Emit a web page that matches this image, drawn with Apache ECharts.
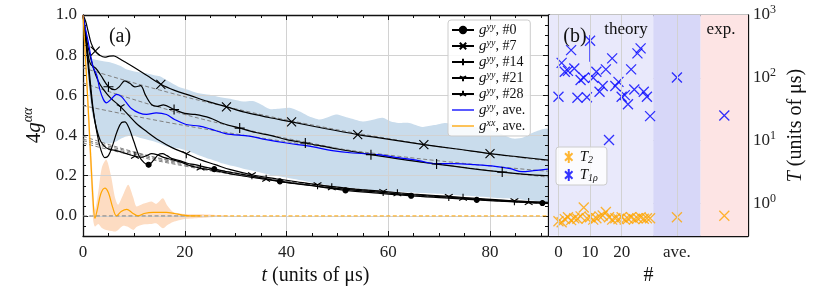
<!DOCTYPE html>
<html><head><meta charset="utf-8">
<script src="https://cdn.jsdelivr.net/npm/echarts@6/dist/echarts.min.js"></script>
<style>html,body{margin:0;padding:0;background:#fff}#c{width:831px;height:305px}</style>
</head><body><div id="c"></div>
<script>
// ---------------- DATA: panel (a) ----------------
const g0 = [[0,1.0],[0.5,0.9],[1,0.78],[1.5,0.65],[2,0.53],[2.7,0.42],[3.5,0.33],[4.3,0.29],[5,0.3],[5.8,0.35],[6.7,0.42],[7.6,0.465],[8.2,0.468],[9,0.44],[10,0.37],[11,0.3],[12,0.265],[12.9,0.255],[13.8,0.275],[14.8,0.305],[15.6,0.31],[16.5,0.3],[17.5,0.285],[19,0.275],[20.5,0.262],[22,0.255],[24,0.243],[25.8,0.233],[28,0.222],[31,0.208],[35,0.19],[38.7,0.172],[45,0.15],[51.6,0.127],[58,0.113],[64.5,0.1],[71,0.09],[77.4,0.08],[84,0.071],[90.3,0.064],[91.4,0.063]];
const g0Marks = [12.9,25.8,38.7,51.6,64.5,77.4,90.3];
const g7 = [[0,1.0],[0.5,0.97],[1,0.92],[1.6,0.86],[2.4,0.82],[3.3,0.8],[4.3,0.79],[5.2,0.795],[6,0.797],[7,0.785],[8,0.77],[10,0.74],[12.5,0.7],[15.3,0.655],[18,0.625],[21,0.6],[24.5,0.57],[28.2,0.543],[32,0.515],[36.5,0.49],[41,0.468],[47.5,0.435],[54,0.405],[60.5,0.38],[67,0.355],[73.5,0.333],[80,0.31],[86,0.293],[91.4,0.278]];
const g7Marks = [2.4,15.3,28.2,41,54,67,80];
const g14 = [[0,1.0],[0.5,0.9],[1,0.8],[1.5,0.755],[2.5,0.735],[3.5,0.7],[5,0.643],[6.3,0.628],[7.2,0.645],[8.2,0.672],[9.2,0.66],[10.2,0.642],[11.3,0.648],[12.3,0.6],[13.5,0.553],[14.6,0.545],[15.8,0.553],[17.9,0.53],[20,0.51],[22,0.505],[24.9,0.488],[27.5,0.46],[30.8,0.437],[34,0.415],[37,0.4],[40,0.38],[43.7,0.363],[50,0.333],[56.6,0.305],[63,0.28],[69.5,0.258],[76,0.237],[82.4,0.218],[87,0.207],[91.4,0.2]];
const g14Marks = [5,17.9,30.8,43.7,56.6,69.5,82.4];
const g21 = [[0,1.0],[0.5,0.92],[1,0.84],[2,0.74],[3,0.67],[4,0.63],[5.5,0.585],[7.4,0.543],[9,0.5],[10.5,0.46],[12.5,0.42],[15,0.375],[17.5,0.34],[20.3,0.31],[23,0.28],[26,0.255],[29,0.23],[33.2,0.205],[38,0.185],[42,0.17],[46.1,0.155],[52,0.137],[59,0.122],[65,0.109],[71.9,0.097],[78,0.086],[84.8,0.075],[91.4,0.068]];
const g21Marks = [7.4,20.3,33.2,46.1,59,71.9,84.8];
const g28 = [[0,1.0],[0.5,0.88],[1,0.75],[1.5,0.62],[2,0.52],[2.7,0.43],[3.5,0.37],[4.5,0.34],[5.5,0.33],[6.5,0.325],[7.5,0.318],[8.5,0.31],[10.2,0.297],[11.5,0.292],[12.5,0.3],[13.5,0.31],[14.5,0.305],[16,0.29],[17.5,0.28],[19,0.27],[21,0.25],[23.1,0.238],[26,0.225],[30,0.205],[36,0.182],[42,0.16],[48.9,0.14],[55,0.125],[61.8,0.11],[68,0.1],[74.7,0.088],[81,0.078],[87.6,0.067],[91.4,0.064]];
const g28Marks = [10.2,23.1,36,48.9,61.8,74.7,87.6];
const gyyAve = [[0,1.0],[0.5,0.93],[1,0.87],[1.5,0.8],[2,0.74],[2.7,0.7],[3.3,0.63],[4,0.58],[4.6,0.563],[5.5,0.58],[6.6,0.605],[7.5,0.595],[8.5,0.565],[9.5,0.535],[11,0.513],[12.5,0.505],[14.4,0.513],[16.4,0.505],[18,0.48],[20.3,0.455],[22.9,0.447],[25,0.433],[28,0.41],[32.7,0.397],[36,0.38],[40,0.363],[45,0.345],[49,0.325],[53,0.313],[58,0.305],[62,0.29],[66,0.275],[69.3,0.26],[73,0.26],[77,0.255],[81,0.247],[84,0.235],[86.3,0.22],[88.5,0.225],[91.4,0.233]];
const gxxAve = [[0,1.0],[0.5,0.78],[1,0.55],[1.5,0.3],[2,0.07],[2.35,-0.012],[2.8,0.03],[3.5,0.11],[4.3,0.138],[5,0.115],[5.8,0.045],[6.6,0.0],[7.5,0.022],[8.6,0.033],[9.7,0.015],[10.8,0.0],[12,0.012],[13.8,0.018],[16.4,0.018],[18,0.012],[19.4,0.005],[21,0.0],[23,0.0]];
// fitted decays (grey dashed)
const fit7   = [[0,0.737],[15,0.627],[30,0.533],[45,0.453],[60,0.385],[75,0.327],[91.4,0.274]];
const fit14  = [[0,0.662],[15,0.541],[30,0.442],[45,0.361],[60,0.294],[75,0.241],[91.4,0.193]];
const fitAve = [[0,0.549],[15,0.473],[30,0.408],[45,0.352],[60,0.303],[75,0.261],[91.4,0.222]];
const fit0   = [[0,0.397],[10,0.319],[20,0.261],[30,0.214],[45,0.158],[60,0.117],[75,0.087],[91.4,0.0625]];
const fit21  = [[0,0.383],[10,0.315],[20,0.259],[30,0.213],[45,0.159],[60,0.119],[75,0.089],[91.4,0.064]];
const fit28  = [[0,0.375],[10,0.308],[20,0.253],[30,0.208],[45,0.155],[60,0.115],[75,0.086],[91.4,0.062]];
const fitX   = [[0,0.363],[10,0.3],[20,0.248],[30,0.205],[45,0.153],[60,0.114],[75,0.085],[91.4,0.061]];
const zeroRef = [[0,0],[20,0]];
const gxxFit  = [[20,0],[91.4,0]];
// spread bands
const bandYYt  = [0,0.5,1,1.7,3,4,5.3,6.5,7.5,8.5,9.9,11,12.5,14,15.1,16.5,17.5,19,20.3,22.5,24.9,27,29.5,31.5,33.4,35,36.7,38.5,40.6,43,44.5,46.5,48,49.7,52,55,57,58.9,60.5,62,64.1,66.7,69,71.3,73,75.2,77.5,79.8,82,84.5,86.5,88.5,91.4];
const bandYYhi = [1.0,0.95,0.86,0.785,0.775,0.77,0.765,0.755,0.745,0.73,0.72,0.715,0.71,0.7,0.695,0.675,0.66,0.64,0.63,0.612,0.603,0.59,0.58,0.57,0.572,0.555,0.532,0.533,0.538,0.515,0.495,0.48,0.49,0.505,0.49,0.47,0.478,0.488,0.47,0.463,0.463,0.443,0.452,0.463,0.455,0.45,0.44,0.43,0.41,0.385,0.39,0.415,0.43];
const bandYYlo = [1.0,0.85,0.68,0.52,0.4,0.365,0.36,0.37,0.385,0.395,0.4,0.39,0.38,0.37,0.36,0.345,0.34,0.335,0.325,0.305,0.283,0.265,0.248,0.235,0.225,0.215,0.205,0.197,0.187,0.176,0.168,0.16,0.153,0.147,0.14,0.133,0.128,0.125,0.122,0.12,0.117,0.114,0.111,0.107,0.104,0.1,0.097,0.093,0.089,0.085,0.081,0.077,0.072];
const bandXXt  = [0,0.5,1,1.5,2,2.35,3,3.7,4.6,5.5,6.3,6.9,7.8,8.9,9.9,10.5,11.8,13.5,14.4,15.7,16.6,17.7,20,23,26,30];
const bandXXhi = [1.0,0.82,0.6,0.38,0.15,0.03,0.12,0.24,0.28,0.2,0.09,0.055,0.1,0.155,0.09,0.047,0.06,0.072,0.06,0.088,0.05,0.02,0.01,0.008,0.005,0];
const bandXXlo = [1.0,0.72,0.45,0.2,-0.02,-0.053,-0.04,-0.06,-0.07,-0.075,-0.078,-0.07,-0.05,-0.055,-0.07,-0.055,-0.043,-0.04,-0.037,-0.062,-0.045,-0.03,-0.015,-0.01,-0.005,0];
const xTicksA = [0,20,40,60,80];
const yTicksA = [0,0.2,0.4,0.6,0.8,1.0];

// ---------------- DATA: panel (b) ----------------
const sampleIdx = [0,1,2,3,4,5,6,7,8,9,10,11,12,13,14,15,16,17,18,19,20,21,22,23,24,25,26,27,28,29];
const t1rhoTheory = [50,173,125,129,276,141,48,92,100,49,390,100,125,60,74,136,10.2,204,74,86,50,53,38,136,65,245,294,60,50,24.5];
const t2Theory = [0.52,0.5,0.56,0.6,0.54,0.58,0.57,0.62,0.86,0.58,0.6,0.55,0.58,0.62,0.64,0.73,0.6,0.55,0.58,0.56,0.6,0.55,0.57,0.6,0.56,0.58,0.6,0.57,0.58,0.58];
const aveX = 37.5, expX = 52.5;
const t1rhoAve = 101, t2Ave = 0.6;
const t1rhoExp = 25, t2Exp = 0.635;
const t1rhoErr = [[10,180,480]];
const xTickB = [0,10,20,37.5];
const xTickBLabels = ['0','10','20','ave.'];
const yTickB = [0,1,2,3];          // log10 of 10^0 .. 10^3
const regionTheory = [-3,30], regionAve = [30,45], regionExp = [45,60];

// ---------------- helpers / style ----------------
const SERIF = '"Liberation Serif","DejaVu Serif",serif';
const GRIDC = '#d2d2d2';
const AXC = '#111';
const XP = 'path://M0,0L10,10M0,10L10,0';
const PLUS = 'path://M5,0L5,10M0,5L10,5';
const TRID = 'path://M5,0M5,5L5,10M5,5L0.67,2.5M5,5L9.33,2.5';
const TRIU = 'path://M5,10M5,5L5,0M5,5L0.67,7.5M5,5L9.33,7.5';
const XPLUS = 'path://M0,1L10,11M0,11L10,1M5,-2L5,14';
const LINEICON = 'path://M0,0L22,0L22,1.3L0,1.3Z';

function rng(a,b,s){const r=[];for(let v=a;v<=b+1e-9;v+=s)r.push(Math.round(v*1000)/1000);return r;}
const minorAx = rng(5,90,5).filter(v=>v%20!==0);
const minorAy = rng(-0.05,0.95,0.05).filter(v=>Math.abs(v/0.2-Math.round(v/0.2))>1e-6);
const minorBx = [2,4,6,8,12,14,16,18,22,24,26,28];
const minorBy = [];
for (let n=-1;n<=2;n++) for (let k=2;k<=9;k++){const v=n+Math.log10(k); if(v>-0.52&&v<3) minorBy.push(v);}

const AXL = {show:true,onZero:false,lineStyle:{color:AXC,width:1.3}};
const NOAXL = {show:false,onZero:false};
function tk(vals,len){return {show:true,inside:true,length:len,customValues:vals,lineStyle:{color:AXC,width:1}};}
const NOLAB = {show:false};
const NOSPL = {show:false};
const LABS = {fontFamily:SERIF,fontSize:17,color:'#222'};

function withMarks(pts, marks){return pts.map(p=>marks.indexOf(p[0])>=0?{value:p}:{value:p,symbol:'none'});}
function curve(name,pts,marks,sym,size){
  return {type:'line',name,xAxisIndex:0,yAxisIndex:0,data:withMarks(pts,marks),symbol:sym,symbolSize:size,
    symbolKeepAspect:true,showSymbol:true,showAllSymbol:true,smooth:0.35,z:4,
    lineStyle:{color:'#000',width:1.2},itemStyle:{color:'#000',borderColor:'#000',borderWidth:1.1},
    emphasis:{disabled:true},silent:true};
}
function dashed(pts,color,z){
  return {type:'line',xAxisIndex:0,yAxisIndex:0,data:pts,symbol:'none',smooth:true,z:z||3,silent:true,
    lineStyle:{color:color||'#808080',width:1,type:[4,2.5]},emphasis:{disabled:true}};
}
function band(ts,lo,hi,color){
  return {type:'custom',xAxisIndex:0,yAxisIndex:0,z:-1,silent:true,
    data:ts.map((t,i)=>[t,lo[i],hi[i]]),encode:{x:0,y:[1,2]},
    renderItem:function(params,api){
      if(params.dataIndex!==0) return null;
      const pts=[];
      for(let i=0;i<ts.length;i++) pts.push(api.coord([ts[i],hi[i]]));
      for(let i=ts.length-1;i>=0;i--) pts.push(api.coord([ts[i],lo[i]]));
      return {type:'polygon',shape:{points:pts,smooth:0.25},style:{fill:color,stroke:null}};
    }};
}

const LEG_A = {
  g0:'{i|g}{sup|yy}{r|, #0}', g7:'{i|g}{sup|yy}{r|, #7}', g14:'{i|g}{sup|yy}{r|, #14}',
  g21:'{i|g}{sup|yy}{r|, #21}', g28:'{i|g}{sup|yy}{r|, #28}',
  gyyAve:'{i|g}{sup|yy}{r|, ave.}', gxxAve:'{i|g}{sup|xx}{r|, ave.}'
};
const LEG_B = {T2:'{i|T}{sub|2}', T1rho:'{i|T}{sub|1ρ}'};

const t1rhoPts = sampleIdx.map((x,i)=>[x,Math.log10(t1rhoTheory[i])]).concat([[aveX,Math.log10(t1rhoAve)],[expX,Math.log10(t1rhoExp)]]);
const t2Pts = sampleIdx.map((x,i)=>[x,Math.log10(t2Theory[i])]).concat([[aveX,Math.log10(t2Ave)],[expX,Math.log10(t2Exp)]]);

const option = {
  animation:false,
  backgroundColor:'#fff',
  grid:[
    {left:83,top:15,width:465,height:221},
    {left:549,top:15,width:199,height:221}
  ],
  xAxis:[
    {type:'value',gridIndex:0,position:'bottom',min:0,max:91.4,axisLine:AXL,axisTick:tk(xTicksA,5),
     axisLabel:Object.assign({customValues:xTicksA,margin:8,formatter:v=>(xTicksA.indexOf(v)>=0?String(v):'')},LABS),
     splitLine:{show:true,lineStyle:{color:GRIDC,width:1}},
     name:'{i|t}{r| (units of μs)}',nameLocation:'middle',nameGap:22,
     nameTextStyle:{fontFamily:SERIF,fontSize:20,color:'#111',rich:{i:{fontFamily:SERIF,fontSize:20,fontStyle:'italic',color:'#111'},r:{fontFamily:SERIF,fontSize:20,color:'#111'}}}},
    {type:'value',gridIndex:0,position:'top',min:0,max:91.4,axisLine:AXL,axisTick:tk(xTicksA,5),axisLabel:NOLAB,splitLine:NOSPL},
    {type:'value',gridIndex:0,position:'bottom',min:0,max:91.4,axisLine:NOAXL,axisTick:tk(minorAx,3),axisLabel:NOLAB,splitLine:NOSPL},
    {type:'value',gridIndex:0,position:'top',min:0,max:91.4,axisLine:NOAXL,axisTick:tk(minorAx,3),axisLabel:NOLAB,splitLine:NOSPL},
    {type:'value',gridIndex:1,position:'bottom',min:-3,max:60,axisLine:AXL,axisTick:tk(xTickB,5),
     axisLabel:Object.assign({customValues:xTickB,margin:8,formatter:v=>{const i=xTickB.indexOf(v);return i>=0?xTickBLabels[i]:'';}},LABS),
     splitLine:NOSPL,name:'#',nameLocation:'middle',nameGap:27,nameTextStyle:{fontFamily:SERIF,fontSize:20,color:'#111'}},
    {type:'value',gridIndex:1,position:'top',min:-3,max:60,axisLine:AXL,axisTick:tk(xTickB,5),axisLabel:NOLAB,splitLine:NOSPL},
    {type:'value',gridIndex:1,position:'bottom',min:-3,max:60,axisLine:NOAXL,axisTick:tk(minorBx,3),axisLabel:NOLAB,splitLine:NOSPL},
    {type:'value',gridIndex:1,position:'top',min:-3,max:60,axisLine:NOAXL,axisTick:tk(minorBx,3),axisLabel:NOLAB,splitLine:NOSPL}
  ],
  yAxis:[
    {type:'value',gridIndex:0,position:'left',min:-0.1,max:1.0,axisLine:AXL,axisTick:tk(yTicksA,5),
     axisLabel:Object.assign({customValues:yTicksA,margin:6,formatter:v=>(yTicksA.some(t=>Math.abs(t-v)<1e-9)?v.toFixed(1):'')},LABS),
     splitLine:{show:true,lineStyle:{color:GRIDC,width:1}},
     name:'{n|4}{i|g}{sup|αα}',nameLocation:'middle',nameRotate:90,nameGap:29,
     nameTextStyle:{fontFamily:SERIF,fontSize:21,color:'#111',rich:{n:{fontFamily:SERIF,fontSize:21,color:'#111'},i:{fontFamily:SERIF,fontSize:21,fontStyle:'italic',color:'#111'},sup:{fontFamily:SERIF,fontSize:14,fontStyle:'italic',color:'#111',padding:[0,0,12,0]}}}},
    {type:'value',gridIndex:0,position:'right',min:-0.1,max:1.0,axisLine:AXL,axisTick:tk(yTicksA,5),axisLabel:NOLAB,splitLine:NOSPL},
    {type:'value',gridIndex:0,position:'left',min:-0.1,max:1.0,axisLine:NOAXL,axisTick:tk(minorAy,3),axisLabel:NOLAB,splitLine:NOSPL},
    {type:'value',gridIndex:0,position:'right',min:-0.1,max:1.0,axisLine:NOAXL,axisTick:tk(minorAy,3),axisLabel:NOLAB,splitLine:NOSPL},
    {type:'value',gridIndex:1,position:'right',min:-0.52,max:3,splitNumber:3,axisLine:AXL,axisTick:tk(yTickB,5),
     axisLabel:{customValues:yTickB,margin:5,formatter:v=>(yTickB.indexOf(v)>=0?'{b|10}{s|'+v+'}':''),
       rich:{b:{fontFamily:SERIF,fontSize:17,color:'#222'},s:{fontFamily:SERIF,fontSize:12,color:'#222',padding:[0,0,10,0]}}},
     splitLine:{show:true,lineStyle:{color:GRIDC,width:1}},
     name:'{i|T}{r| (units of μs)}',nameLocation:'middle',nameRotate:90,nameGap:38,
     nameTextStyle:{fontFamily:SERIF,fontSize:20,color:'#111',rich:{i:{fontFamily:SERIF,fontSize:20,fontStyle:'italic',color:'#111'},r:{fontFamily:SERIF,fontSize:20,color:'#111'}}}},
    {type:'value',gridIndex:1,position:'left',min:-0.52,max:3,axisLine:AXL,axisTick:tk(yTickB,5),axisLabel:NOLAB,splitLine:NOSPL},
    {type:'value',gridIndex:1,position:'right',min:-0.52,max:3,axisLine:NOAXL,axisTick:tk(minorBy,3),axisLabel:NOLAB,splitLine:NOSPL},
    {type:'value',gridIndex:1,position:'left',min:-0.52,max:3,axisLine:NOAXL,axisTick:tk(minorBy,3),axisLabel:NOLAB,splitLine:NOSPL}
  ],
  legend:[
    {data:['g0','g7','g14','g21','g28',{name:'gyyAve',icon:LINEICON},{name:'gxxAve',icon:LINEICON}],
     orient:'vertical',left:448,top:20,
     itemWidth:22,itemHeight:8,itemGap:0,padding:[2,5,2,3],selectedMode:false,z:10,
     backgroundColor:'rgba(255,255,255,0.85)',borderColor:'#cccccc',borderWidth:1,borderRadius:3,
     formatter:n=>LEG_A[n],
     textStyle:{fontFamily:SERIF,fontSize:14,color:'#111',lineHeight:16,rich:{
       i:{fontFamily:SERIF,fontSize:15,fontStyle:'italic',color:'#111',lineHeight:16},
       sup:{fontFamily:SERIF,fontSize:10,fontStyle:'italic',color:'#111',lineHeight:10,verticalAlign:'top'},
       r:{fontFamily:SERIF,fontSize:14,color:'#111',lineHeight:16}}}},
    {data:[{name:'T2',icon:XPLUS},{name:'T1rho',icon:XPLUS}],orient:'vertical',left:556,top:147,
     itemWidth:12,itemHeight:12,itemGap:2,padding:[2,9,2,8],selectedMode:false,z:10,
     backgroundColor:'rgba(255,255,255,0.8)',borderColor:'#cccccc',borderWidth:1,borderRadius:3,
     formatter:n=>LEG_B[n],
     textStyle:{fontFamily:SERIF,fontSize:14,color:'#111',lineHeight:16,rich:{
       i:{fontFamily:SERIF,fontSize:15,fontStyle:'italic',color:'#111',lineHeight:16},
       sub:{fontFamily:SERIF,fontSize:10,fontStyle:'italic',color:'#111',lineHeight:10,verticalAlign:'bottom'}}}}
  ],
  graphic:[
    {type:'text',x:120,y:37,z:20,style:{text:'(a)',font:'20px '+SERIF,fill:'#111',align:'center',verticalAlign:'middle'}},
    {type:'text',x:575,y:37,z:20,style:{text:'(b)',font:'20px '+SERIF,fill:'#111',align:'center',verticalAlign:'middle'}},
    {type:'text',x:626,y:30,z:20,style:{text:'theory',font:'17px '+SERIF,fill:'#111',align:'center',verticalAlign:'middle'}},
    {type:'text',x:721,y:30,z:20,style:{text:'exp.',font:'17px '+SERIF,fill:'#111',align:'center',verticalAlign:'middle'}}
  ],
  series:[
    band(bandYYt,bandYYlo,bandYYhi,'#c9dcec'),
    band(bandXXt,bandXXlo,bandXXhi,'#fddcc2'),
    dashed(fit7),dashed(fit14),dashed(fitAve),dashed(fit0),dashed(fit21),dashed(fit28),dashed(fitX),
    dashed(zeroRef),
    dashed(gxxFit,'#ffa500'),
    curve('g0',g0,g0Marks,'circle',5),
    curve('g7',g7,g7Marks,XP,9),
    curve('g14',g14,g14Marks,PLUS,10),
    curve('g21',g21,g21Marks,TRID,9),
    curve('g28',g28,g28Marks,TRIU,9),
    {type:'line',name:'gyyAve',xAxisIndex:0,yAxisIndex:0,data:gyyAve,symbol:'none',smooth:0.35,z:4,silent:true,
     lineStyle:{color:'#0000ff',width:1.2},itemStyle:{color:'#0000ff'}},
    {type:'line',name:'gxxAve',xAxisIndex:0,yAxisIndex:0,data:gxxAve,symbol:'none',smooth:0.35,z:4,silent:true,
     lineStyle:{color:'#ffa500',width:1.2},itemStyle:{color:'#ffa500'}},
    // panel (b): region shading + vertical grid lines
    {type:'scatter',name:'_regions',xAxisIndex:4,yAxisIndex:4,data:[],z:-2,silent:true,
     markArea:{silent:true,data:[
       [{xAxis:regionTheory[0],itemStyle:{color:'#e9e9fb'}},{xAxis:regionTheory[1]}],
       [{xAxis:regionAve[0],itemStyle:{color:'#d7d7f8'}},{xAxis:regionAve[1]}],
       [{xAxis:regionExp[0],itemStyle:{color:'#fde4e4'}},{xAxis:regionExp[1]}]]}},
    {type:'line',name:'_gridb',xAxisIndex:4,yAxisIndex:4,data:[],z:-1,silent:true,
     markLine:{silent:true,symbol:['none','none'],label:{show:false},animation:false,
       lineStyle:{color:GRIDC,width:1,type:'solid'},data:xTickB.map(v=>({xAxis:v}))}},
    {type:'custom',xAxisIndex:4,yAxisIndex:4,z:3,silent:true,data:t1rhoErr,encode:{x:0,y:[1,2]},
     renderItem:function(p,api){
       const a=api.coord([api.value(0),Math.log10(api.value(1))]);
       const b=api.coord([api.value(0),Math.log10(api.value(2))]);
       return {type:'line',shape:{x1:a[0],y1:a[1],x2:b[0],y2:b[1]},style:{stroke:'#0000ff',lineWidth:1.3}};
     }},
    {type:'scatter',name:'T2',xAxisIndex:4,yAxisIndex:4,data:t2Pts,symbol:XP,symbolSize:10,z:4,silent:true,
     itemStyle:{color:'#ffa500',borderColor:'#ffa500',borderWidth:1.3}},
    {type:'scatter',name:'T1rho',xAxisIndex:4,yAxisIndex:4,data:t1rhoPts,symbol:XP,symbolSize:10,z:4,silent:true,
     itemStyle:{color:'#0000ff',borderColor:'#0000ff',borderWidth:1.3}}
  ]
};
const chart = echarts.init(document.getElementById('c'),null,{renderer:'canvas'});
chart.setOption(option);
</script></body></html>
